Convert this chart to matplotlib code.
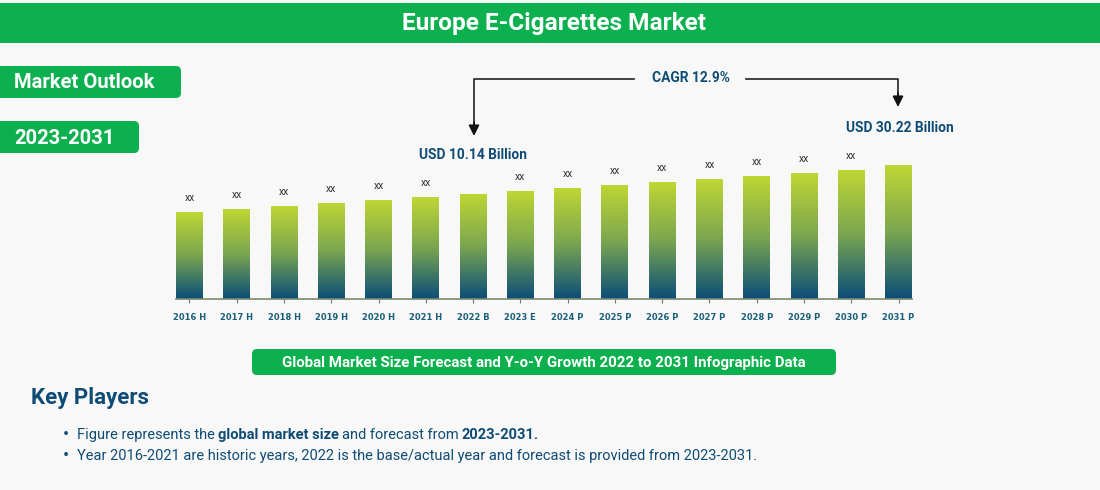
import numpy as np
import matplotlib
matplotlib.use("Agg")
import matplotlib.pyplot as plt
from matplotlib.colors import LinearSegmentedColormap
from matplotlib.patches import FancyBboxPatch, Rectangle

# years on the x axis
years = ["2016 H", "2017 H", "2018 H", "2019 H", "2020 H", "2021 H", "2022 B", "2023 E",
         "2024 P", "2025 P", "2026 P", "2027 P", "2028 P", "2029 P", "2030 P", "2031 P"]
# bar heights (no scale is printed)
bar_values = [87, 90, 93, 96, 99, 102, 105, 108, 111, 114, 117, 120, 123, 126, 129, 134]
# labels above the bars, two bars have none
bar_labels = ["xx", "xx", "xx", "xx", "xx", "xx", "", "xx",
              "xx", "xx", "xx", "xx", "xx", "xx", "xx", ""]

GREEN = "#0cb04e"
NAVY = "#0f4c75"
BG = "#f8f8f8"

plt.rcParams["font.family"] = "Roboto"

fig = plt.figure(figsize=(11, 4.9), dpi=100, facecolor=BG)

# background axes in pixels for all the boxes and text
bg = fig.add_axes([0, 0, 1, 1])
bg.set_xlim(0, 1100)
bg.set_ylim(490, 0)
bg.axis("off")


def pill(x0, y0, x1, y1):
    bg.add_patch(FancyBboxPatch((x0 + 4, y0 + 4), x1 - x0 - 8, y1 - y0 - 8,
                                boxstyle="round,pad=4,rounding_size=5",
                                fc=GREEN, ec="none", mutation_aspect=1))


# header
bg.add_patch(Rectangle((0, 3), 1100, 40, fc=GREEN, ec="none"))
bg.text(554.5, 23.5, "Europe E-Cigarettes Market", color="white", fontsize=17.6,
        fontweight="bold", ha="center", va="center")

# left labels
pill(-10, 66, 181, 98)
bg.text(14, 82.5, "Market Outlook", color="white", fontsize=14.5, fontweight="bold", va="center")
pill(-10, 121, 139, 153)
bg.text(14, 138, "2023-2031", color="white", fontsize=14.5, fontweight="bold", va="center")

# CAGR arrows
bg.plot([634, 474, 474], [79, 79, 126], color="#222222", lw=1.2)
bg.plot([746, 898, 898], [79, 79, 97], color="#222222", lw=1.2)
bg.annotate("", xy=(474, 136), xytext=(474, 122),
            arrowprops=dict(arrowstyle="-|>", color="#111111", lw=1.2, mutation_scale=16, shrinkA=0, shrinkB=0))
bg.annotate("", xy=(898, 107), xytext=(898, 93),
            arrowprops=dict(arrowstyle="-|>", color="#111111", lw=1.2, mutation_scale=16, shrinkA=0, shrinkB=0))
bg.text(691, 78, "CAGR 12.9%", color=NAVY, fontsize=9.9, fontweight="bold", ha="center", va="center")
bg.text(473, 155, "USD 10.14 Billion", color=NAVY, fontsize=9.9, fontweight="bold", ha="center", va="center")
bg.text(900, 127.5, "USD 30.22 Billion", color=NAVY, fontsize=9.9, fontweight="bold", ha="center", va="center")

# caption and key players
pill(252, 349, 836, 375)
bg.text(544, 362.5, "Global Market Size Forecast and Y-o-Y Growth 2022 to 2031 Infographic Data",
        color="white", fontsize=10.8, fontweight="bold", ha="center", va="center")
bg.text(31, 398, "Key Players", color=NAVY, fontsize=16, fontweight="bold", va="center")

# bullet lines, bold parts are placed after the previous piece
renderer = fig.canvas.get_renderer()


def line(x, y, parts):
    bg.text(x - 14, y, "•", color=NAVY, fontsize=13, va="center")
    for txt, weight in parts:
        t = bg.text(x, y, txt, color=NAVY, fontsize=10.5, fontweight=weight, va="center")
        x = x + t.get_window_extent(renderer).width + 3


line(77, 434.5, [("Figure represents the", "normal"), ("global market size", "bold"),
                 ("and forecast from", "normal"), ("2023-2031.", "bold")])
line(77, 455.5, [("Year 2016-2021 are historic years, 2022 is the base/actual year and forecast is provided from 2023-2031.", "normal")])

# bar chart, positioned so one y unit is one pixel
ax = fig.add_axes([176 / 1100, (490 - 299) / 490, 736 / 1100, 150 / 490])
ax.patch.set_alpha(0)
x = np.arange(len(years))
bars = ax.bar(x, bar_values, width=0.57, color="none")

cmap = LinearSegmentedColormap.from_list("bars", ["#c0d733", "#7ba650", "#0a4d78"])
ramp = np.linspace(0, 1, 256).reshape(-1, 1)
for b in bars:
    im = ax.imshow(ramp, cmap=cmap, aspect="auto", zorder=2, interpolation="bilinear",
                   extent=(b.get_x(), b.get_x() + b.get_width(), 0, b.get_height()))
    im.set_clip_path(b)

for i in range(len(years)):
    if bar_labels[i]:
        ax.annotate(bar_labels[i], (x[i], bar_values[i]), xytext=(0, 10), textcoords="offset points",
                    ha="center", va="center", fontsize=7.5, color="#333333")

ax.set_xlim(-0.285, 15.285)
ax.set_ylim(0, 150)
ax.set_xticks(x)
ax.set_xticklabels(years, fontname="DejaVu Sans", fontweight="bold", fontsize=6, color="#1a5f7a")
ax.tick_params(axis="x", length=3, width=0.8, color="#777777", pad=7)
ax.set_yticks([])
for s in ["top", "left", "right"]:
    ax.spines[s].set_visible(False)
ax.spines["bottom"].set_color("#7a8a6a")
ax.spines["bottom"].set_linewidth(1.2)

fig.savefig("out.png", dpi=100, facecolor=BG)
